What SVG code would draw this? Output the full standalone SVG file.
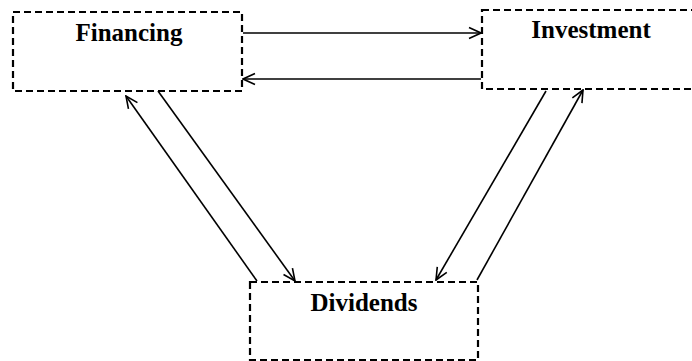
<svg xmlns="http://www.w3.org/2000/svg" width="692" height="361" viewBox="0 0 692 361">
<defs>
<marker id="arr" viewBox="0 0 14 14" refX="13" refY="7" markerWidth="14" markerHeight="14" markerUnits="userSpaceOnUse" orient="auto">
<path d="M1,1.5 L13,7 L1,12.5" fill="none" stroke="#000" stroke-width="1.6"/>
</marker>
<style>
.box{fill:#fff;stroke:#000;stroke-width:2.2;stroke-dasharray:7 4}
.lbl{font-family:"Liberation Serif","Times New Roman",serif;font-weight:bold;font-size:25px;fill:#000;text-anchor:middle}
.c{stroke:#000;stroke-width:1.6;fill:none;marker-end:url(#arr)}
</style>
</defs>
<rect width="692" height="361" fill="#fff"/>
<g id="financing">
<rect class="box" x="13" y="12" width="229" height="79"/>
<text class="lbl" x="129" y="41">Financing</text>
</g>
<g id="investment">
<rect class="box" x="482" y="10" width="230" height="79"/>
<text class="lbl" x="591" y="38">Investment</text>
</g>
<g id="dividends">
<rect class="box" x="250" y="282" width="228" height="78"/>
<text class="lbl" x="364" y="311">Dividends</text>
</g>
<g id="connectors">
<line class="c" x1="243" y1="33" x2="481" y2="33"/>
<line class="c" x1="481" y1="79" x2="243" y2="79"/>
<line class="c" x1="257" y1="281" x2="126" y2="96"/>
<line class="c" x1="158" y1="91" x2="295" y2="281"/>
<line class="c" x1="546" y1="91" x2="436" y2="280"/>
<line class="c" x1="477" y1="280" x2="583" y2="90"/>
</g>
</svg>
